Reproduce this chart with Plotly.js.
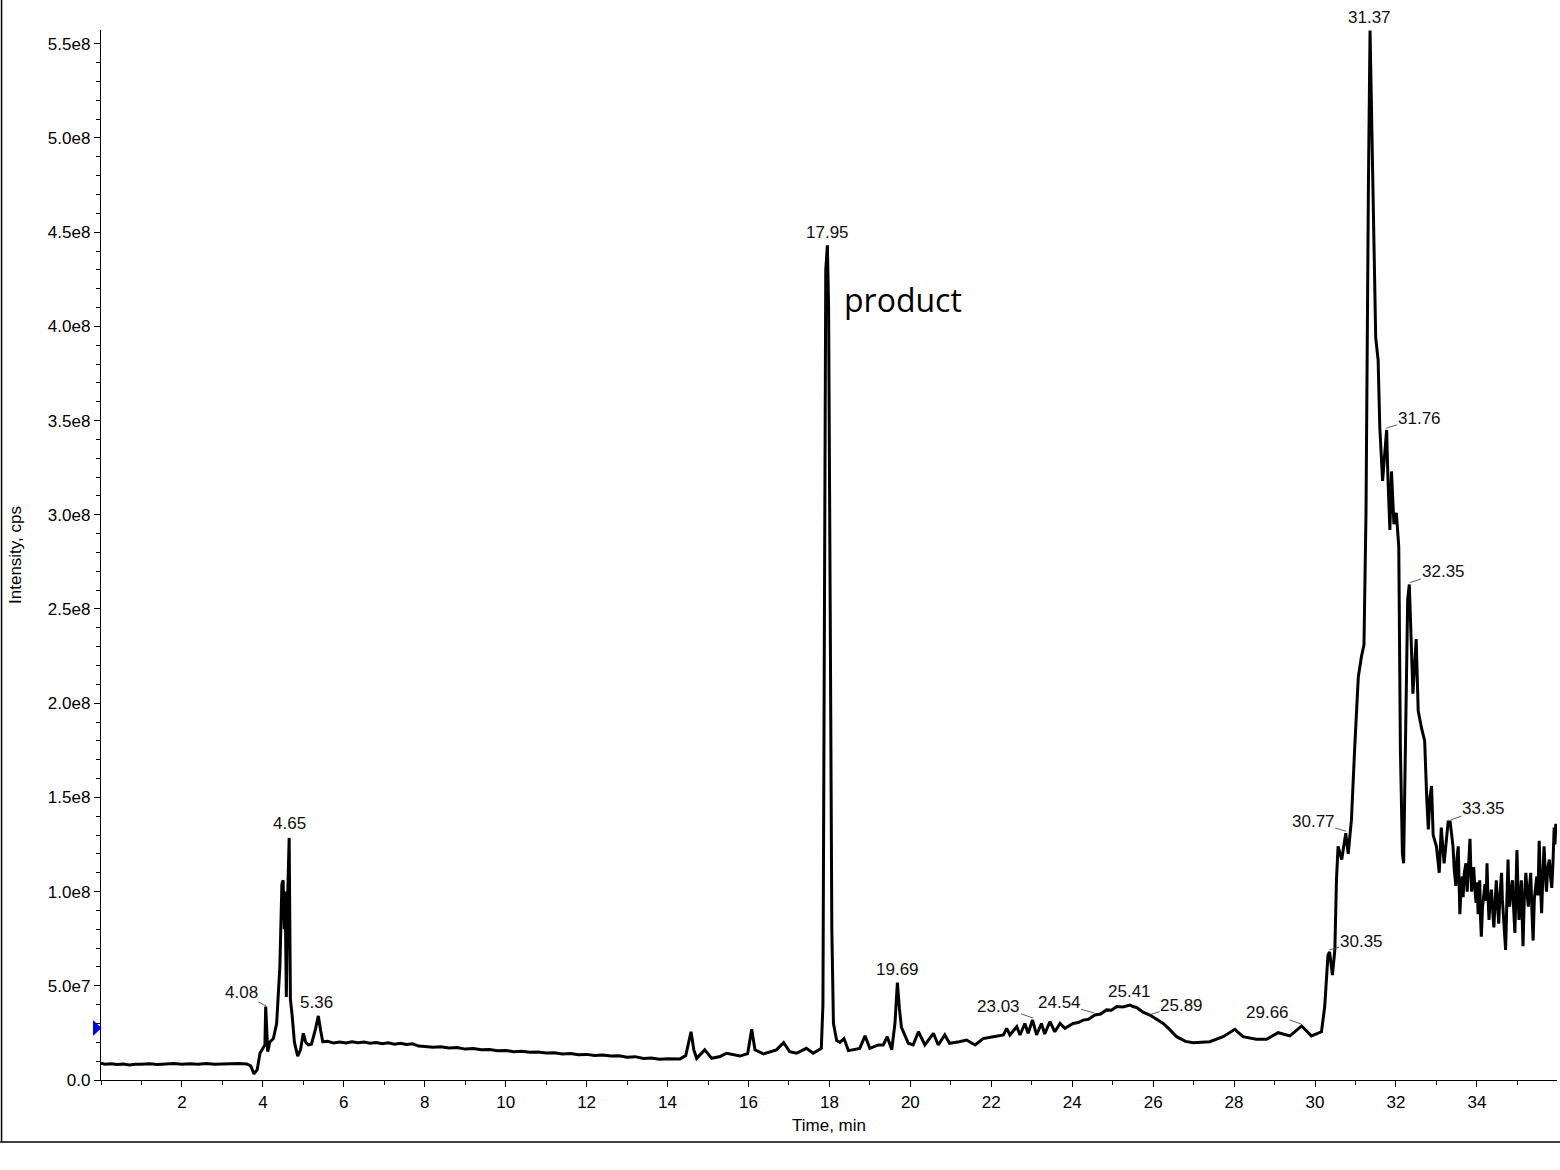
<!DOCTYPE html>
<html>
<head>
<meta charset="utf-8">
<script src="https://cdn.plot.ly/plotly-3.0.1.min.js"></script>
<style>
html,body{margin:0;padding:0;background:#fff;}
#chart{width:1560px;height:1170px;}
</style>
</head>
<body>
<div id="chart"></div>
<script>
// Retention time (min)
const time = [
  0.00,0.10,0.25,0.40,0.55,0.70,0.85,1.00,1.20,1.40,1.60,1.80,2.00,2.20,2.40,2.60,2.80,3.00,3.20,3.40,3.60,3.70,
  3.78,3.86,3.93,4.00,4.05,4.07,4.10,4.12,4.17,4.26,4.34,4.42,4.47,4.50,4.53,4.55,4.58,4.61,4.65,4.68,4.72,4.78,
  4.86,4.93,5.00,5.06,5.12,5.20,5.30,5.37,5.43,5.48,
  5.60,5.75,5.90,6.05,6.20,6.35,6.50,6.65,6.80,6.95,7.10,7.25,7.40,7.55,7.70,7.85,
  8.00,8.20,8.40,8.60,8.80,9.00,9.20,9.40,9.60,9.80,10.0,10.2,10.4,10.6,10.8,11.0,11.2,11.4,11.6,11.8,12.0,12.2,12.4,12.6,12.8,13.0,13.2,13.4,13.6,13.8,14.0,
  14.31,14.45,14.58,14.65,14.72,14.92,15.09,15.30,15.46,15.79,15.98,16.08,16.16,16.37,16.69,16.87,17.02,17.19,17.43,17.60,17.80,
  17.84,17.88,17.91,17.95,17.98,18.02,18.06,18.10,
  18.18,18.26,18.36,18.47,18.75,18.88,19.00,19.21,19.33,19.43,19.54,19.62,19.68,19.73,19.78,19.95,20.07,20.20,20.36,20.57,20.69,20.85,20.97,21.21,21.39,21.60,21.80,
  22.05,22.30,22.38,22.46,22.63,22.71,22.83,22.91,23.02,23.12,23.24,23.32,23.45,23.57,23.70,23.82,
  24.02,24.15,24.27,24.40,24.56,24.70,24.85,24.97,25.10,25.25,25.43,25.50,25.59,25.75,25.92,26.08,26.25,26.40,26.58,26.80,26.99,
  27.40,27.73,28.02,28.22,28.55,28.80,29.09,29.38,29.67,29.91,30.16,
  30.24,30.32,30.36,30.43,30.49,30.53,30.57,30.66,30.76,30.82,30.90,30.98,31.07,31.15,31.21,31.26,31.28,31.32,31.36,
  31.40,31.44,31.50,31.56,31.60,31.67,31.73,31.77,31.80,31.85,31.89,31.95,32.01,32.07,32.11,32.16,32.19,32.24,32.29,32.33,
  32.42,32.50,32.55,32.63,32.71,32.76,32.80,32.84,32.88,32.92,33.00,33.07,33.12,33.19,33.29,33.34,33.38,
  33.41,33.44,33.48,33.51,33.54,33.56,33.58,33.61,33.64,33.66,
  33.69,33.73,33.76,33.79,33.83,33.85,33.87,33.90,33.92,33.95,
  33.98,34.01,34.03,34.05,34.07,34.09,34.11,34.14,34.17,34.20,
  34.23,34.25,34.27,34.30,34.33,34.36,34.39,34.42,34.45,34.48,
  34.51,34.54,34.57,34.61,34.63,34.65,34.68,34.71,34.74,34.77,
  34.79,34.81,34.84,34.88,34.91,34.94,34.97,34.99,35.02,35.04,
  35.07,35.10,35.12,35.14,35.17,35.21,35.24,35.27,35.30,35.33,
  35.36,35.39,35.42,35.45,35.48,35.51,35.54,35.57,35.60,35.63,
  35.66,35.69,35.72,35.75,35.79,35.82,35.85,35.88,35.91,35.93,35.95
];
// Intensity (cps)
const intensity = [
  8.9e6,8.4e6,8.6e6,8.2e6,8.5e6,8.0e6,8.4e6,8.3e6,8.6e6,8.2e6,8.5e6,8.7e6,8.3e6,8.6e6,8.4e6,8.7e6,8.3e6,8.6e6,8.5e6,8.8e6,8.5e6,7.5e6,
  3.2e6,5.5e6,1.43e7,1.7e7,1.86e7,3.9e7,2.6e7,1.5e7,2.0e7,2.2e7,3.0e7,6.0e7,1.04e8,1.06e8,8.0e7,1.0e8,4.4e7,9.5e7,1.285e8,4.3e7,3.5e7,2.0e7,
  1.27e7,1.6e7,2.48e7,2.0e7,1.86e7,1.9e7,2.7e7,3.4e7,2.6e7,2.03e7,
  2.05e7,1.96e7,2.02e7,1.97e7,2.03e7,1.98e7,2.01e7,1.95e7,1.99e7,1.93e7,1.97e7,1.9e7,1.95e7,1.88e7,1.92e7,1.8e7,
  1.78e7,1.74e7,1.77e7,1.7e7,1.72e7,1.64e7,1.67e7,1.6e7,1.62e7,1.55e7,1.57e7,1.5e7,1.53e7,1.47e7,1.49e7,1.43e7,1.45e7,1.38e7,1.41e7,1.34e7,1.36e7,1.3e7,1.33e7,1.27e7,1.29e7,1.21e7,1.24e7,1.14e7,1.17e7,1.1e7,1.13e7,
  1.12e7,1.3e7,2.56e7,1.6e7,1.15e7,1.6e7,1.15e7,1.25e7,1.42e7,1.27e7,1.4e7,2.69e7,1.6e7,1.38e7,1.6e7,1.98e7,1.5e7,1.42e7,1.68e7,1.42e7,1.68e7,
  4.0e7,2.6e8,4.3e8,4.43e8,4.1e8,2.5e8,8.0e7,3.0e7,
  2.1e7,2.0e7,2.2e7,1.56e7,1.68e7,2.34e7,1.68e7,1.86e7,1.86e7,2.3e7,1.6e7,3.0e7,5.17e7,3.8e7,2.8e7,1.95e7,1.86e7,2.56e7,1.86e7,2.48e7,1.86e7,2.39e7,1.95e7,2.03e7,2.12e7,1.86e7,2.2e7,
  2.3e7,2.39e7,2.74e7,2.39e7,2.83e7,2.39e7,3.0e7,2.48e7,3.18e7,2.39e7,3.0e7,2.44e7,3.1e7,2.56e7,3.0e7,2.74e7,
  3.0e7,3.05e7,3.18e7,3.22e7,3.45e7,3.5e7,3.72e7,3.7e7,3.9e7,3.88e7,3.98e7,3.9e7,3.85e7,3.6e7,3.45e7,3.25e7,3.0e7,2.7e7,2.3e7,2.05e7,1.98e7,
  2.03e7,2.3e7,2.69e7,2.3e7,2.16e7,2.16e7,2.51e7,2.34e7,2.87e7,2.34e7,2.56e7,
  3.9e7,6.63e7,6.8e7,5.57e7,6.9e7,1.06e8,1.24e8,1.17e8,1.31e8,1.2e8,1.38e8,1.76e8,2.14e8,2.25e8,2.31e8,3.01e8,3.65e8,4.75e8,5.57e8,
  5.13e8,4.52e8,3.94e8,3.82e8,3.47e8,3.18e8,3.35e8,3.45e8,3.21e8,2.92e8,3.23e8,2.95e8,3.01e8,2.83e8,1.76e8,1.2e8,1.15e8,1.76e8,2.55e8,2.63e8,
  2.05e8,2.34e8,1.96e8,1.87e8,1.8e8,1.5e8,1.33e8,1.5e8,1.56e8,1.3e8,1.24e8,1.1e8,1.34e8,1.15e8,1.37e8,1.37e8,1.3e8,
  1.24e8,1.12e8,1.03e8,1.18e8,1.24e8,1.05e8,8.8e7,1.02e8,1.08e8,9.7e7,
  1.1e8,1.15e8,1.0e8,1.12e8,1.28e8,1.12e8,1.0e8,1.08e8,1.13e8,1.02e8,
  9.4e7,1.05e8,8.8e7,9.8e7,1.06e8,8.6e7,7.6e7,9.2e7,1.0e8,1.04e8,
  9.5e7,1.15e8,1.0e8,8.5e7,9.6e7,1.01e8,9.0e7,8.1e7,9.4e7,1.06e8,
  9.3e7,8.3e7,9.8e7,1.1e8,9.6e7,8.8e7,8.0e7,6.9e7,9.4e7,1.17e8,
  1.0e8,9.2e7,1.0e8,1.06e8,9.0e7,7.8e7,1.05e8,1.22e8,9.8e7,8.5e7,
  9.6e7,1.06e8,8.6e7,7.1e7,9.5e7,1.1e8,1.0e8,9.2e7,1.02e8,1.1e8,
  9.0e7,7.4e7,9.6e7,1.02e8,1.08e8,9.8e7,1.27e8,1.05e8,8.85e7,1.08e8,
  1.24e8,1.1e8,1.0e8,1.12e8,1.17e8,1.08e8,1.02e8,1.15e8,1.34e8,1.25e8,1.36e8
];
// Peak labels (retention time text) and the apex intensity they mark
const peakLabels  = ['4.08','4.65','5.36','17.95','19.69','23.03','24.54','25.41','25.89','29.66','30.77','30.35','31.37','31.76','32.35','33.35'];
const peakHeights = [3.93e7,1.285e8,3.4e7,4.43e8,5.17e7,3.29e7,3.56e7,4.0e7,3.45e7,2.97e7,1.32e8,6.9e7,5.57e8,3.46e8,2.64e8,1.38e8];
// axis tick labels
const yTickVals = [0,5e7,1e8,1.5e8,2e8,2.5e8,3e8,3.5e8,4e8,4.5e8,5e8,5.5e8];
const yTickText = ['0.0','5.0e7','1.0e8','1.5e8','2.0e8','2.5e8','3.0e8','3.5e8','4.0e8','4.5e8','5.0e8','5.5e8'];
const xTickVals = [2,4,6,8,10,12,14,16,18,20,22,24,26,28,30,32,34];

// label placement (pixel offsets of the text centre from the apex); true = thin leader line
const labelStyle = {
  '4.08':[-25,-13,true], '4.65':[0,-14,false], '5.36':[-1,-13,false], '17.95':[0,-13,false],
  '19.69':[0,-13,false], '23.03':[-34,-12,true], '24.54':[-35,-10,true], '25.41':[0,-13,false],
  '25.89':[33,-10,true], '29.66':[-34,-12,true], '30.77':[-33,-10,true], '30.35':[32,-9,true],
  '31.37':[-1,-13,false], '31.76':[33,-10,true], '32.35':[33,-11,true], '33.35':[33,-12,true]
};

const FONT = 'Liberation Sans, Arial, sans-serif';
const annotations = peakLabels.map((lab, i) => {
  const s = labelStyle[lab];
  const base = {x: parseFloat(lab), y: peakHeights[i], xref:'x', yref:'y', text: lab,
    font:{family:FONT, size:17, color:'#111'}};
  if (s[2]) {
    return Object.assign(base, {showarrow:true, ax:s[0], ay:s[1], arrowhead:0, arrowwidth:0.8,
      arrowcolor:'#333', standoff:0, startstandoff:0, borderpad:0});
  }
  return Object.assign(base, {showarrow:false, xshift:s[0], yshift:-s[1], xanchor:'center', yanchor:'middle'});
});
annotations.push({x:19.82, y:4.14e8, xref:'x', yref:'y', text:'product', showarrow:false,
  xanchor:'center', yanchor:'middle', font:{family:'Open Sans, Noto Sans, sans-serif', size:32, color:'#000'}});

const shapes = [
  // outer frame: left and bottom lines
  {type:'line', xref:'paper', yref:'paper', x0:-0.0683, x1:-0.0683, y0:-0.059, y1:1.03, line:{color:'#000', width:1.5}},
  {type:'line', xref:'paper', yref:'paper', x0:-0.0693, x1:1.003, y0:-0.059, y1:-0.059, line:{color:'#000', width:1.5}},
  // blue marker on the y axis
  {type:'path', xref:'paper', yref:'paper', xsizemode:'pixel', ysizemode:'pixel', xanchor:0, yanchor:0.0495,
   path:'M -8,8 L 0.5,0 L -8,-8 Z', fillcolor:'#0000ff', line:{width:0}}
];

const trace = {x: time, y: intensity, type:'scatter', mode:'lines',
  line:{color:'#000', width:3}, hoverinfo:'x+y', showlegend:false};

const layout = {
  width:1560, height:1170,
  margin:{l:101, r:3, t:30, b:90, pad:0},
  paper_bgcolor:'#fff', plot_bgcolor:'#fff',
  font:{family:FONT, size:17, color:'#000'},
  showlegend:false,
  xaxis:{range:[0,35.98], tickmode:'array', tickvals:xTickVals, ticks:'outside', ticklen:6, tickwidth:1,
    tickcolor:'#000', showline:true, linecolor:'#000', linewidth:1.2, showgrid:false, zeroline:false,
    tickfont:{family:FONT, size:17, color:'#000'},
    minor:{dtick:1, tick0:0, ticks:'outside', ticklen:4, tickcolor:'#000', tickwidth:1, showgrid:false},
    title:{text:'Time, min', font:{family:FONT, size:17, color:'#000'}, standoff:8}},
  yaxis:{range:[0,5.573e8], tickmode:'array', tickvals:yTickVals, ticktext:yTickText, ticks:'outside', ticklen:6,
    tickwidth:1, tickcolor:'#000', showline:true, linecolor:'#000', linewidth:1.2, showgrid:false, zeroline:false,
    tickfont:{family:FONT, size:17, color:'#000'},
    minor:{dtick:1e7, tick0:0, ticks:'outside', ticklen:4, tickcolor:'#000', tickwidth:1, showgrid:false},
    title:{text:'Intensity, cps', font:{family:FONT, size:17, color:'#000'}, standoff:22}},
  annotations: annotations,
  shapes: shapes
};

if (time.length !== intensity.length) console.error('length mismatch', time.length, intensity.length);
Plotly.newPlot('chart', [trace], layout, {displayModeBar:false, staticPlot:true});
</script>
</body>
</html>
